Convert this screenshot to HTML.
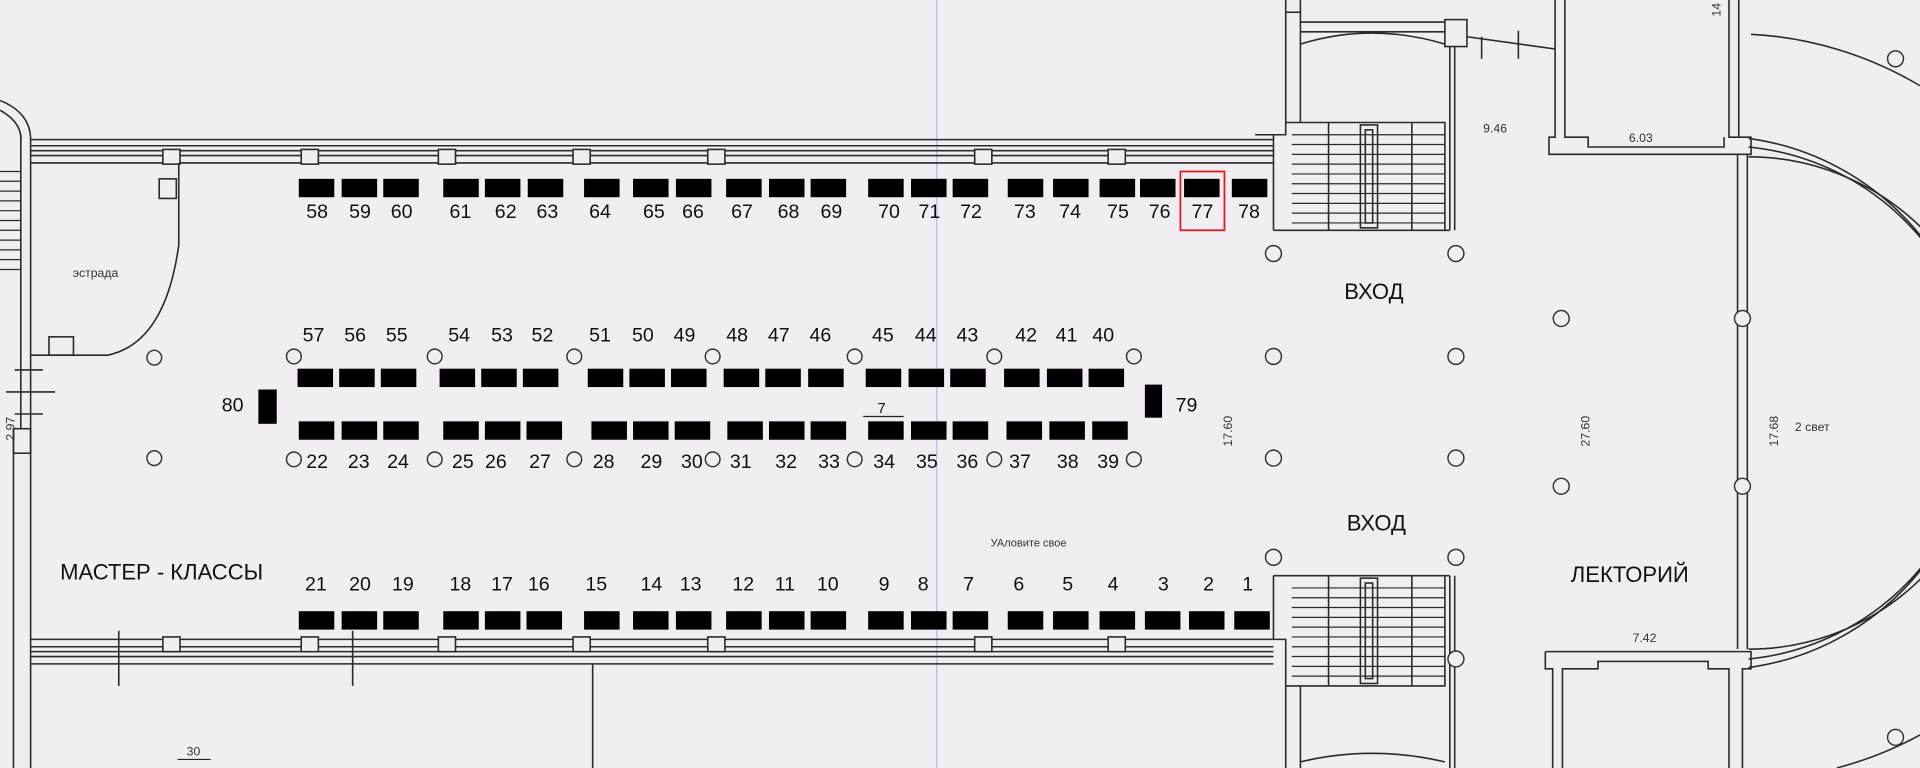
<!DOCTYPE html>
<html><head><meta charset="utf-8"><style>
html,body{margin:0;padding:0;background:#f2edf3;}
svg{display:block}
.n{font-family:"Liberation Sans Narrow","Liberation Sans",sans-serif;font-size:16px;fill:#111;text-anchor:middle}
.s{font-family:"Liberation Sans",sans-serif;font-size:10px;fill:#333;text-anchor:middle}
.L{font-family:"Liberation Sans Narrow","Liberation Sans",sans-serif;font-size:18px;fill:#111;text-anchor:middle}
</style></head><body>
<svg width="1920" height="768" viewBox="0 0 1568 627" preserveAspectRatio="none" xmlns="http://www.w3.org/2000/svg">
<rect width="1568" height="627" fill="#f2edf3"/>
<line x1="765" y1="0" x2="765" y2="627" stroke="#b8b8ee" stroke-width="1"/>
<g stroke="#2a2a2a" stroke-width="1.3" fill="none">
<!-- top wall -->
<line x1="25" y1="114" x2="1040" y2="114"/><line x1="25" y1="119" x2="1040" y2="119"/>
<line x1="25" y1="123" x2="1040" y2="123"/><line x1="25" y1="127" x2="1040" y2="127"/>
<line x1="25" y1="133" x2="1040" y2="133"/>
<g fill="#f2edf3"><rect x="133" y="122" width="14" height="12"/><rect x="246" y="122" width="14" height="12"/><rect x="358" y="122" width="14" height="12"/><rect x="468" y="122" width="14" height="12"/><rect x="578" y="122" width="14" height="12"/><rect x="796" y="122" width="14" height="12"/><rect x="905" y="122" width="14" height="12"/></g>
<!-- bottom wall -->
<line x1="25" y1="522" x2="1040" y2="522"/><line x1="25" y1="528" x2="1040" y2="528"/>
<line x1="25" y1="532" x2="1040" y2="532"/><line x1="25" y1="536" x2="1040" y2="536"/>
<line x1="25" y1="542" x2="1040" y2="542"/>
<g fill="#f2edf3"><rect x="133" y="520" width="14" height="12"/><rect x="246" y="520" width="14" height="12"/><rect x="358" y="520" width="14" height="12"/><rect x="468" y="520" width="14" height="12"/><rect x="578" y="520" width="14" height="12"/><rect x="796" y="520" width="14" height="12"/><rect x="905" y="520" width="14" height="12"/></g>
<line x1="97" y1="515" x2="97" y2="560"/><line x1="288" y1="515" x2="288" y2="560"/>
<line x1="484" y1="542" x2="484" y2="627"/>
<!-- left -->
<line x1="25" y1="114" x2="25" y2="627"/><line x1="17" y1="110" x2="17" y2="350"/>
<line x1="11" y1="350" x2="11" y2="627"/>
<path d="M0 82 Q25 92 25 114"/><path d="M0 90 Q18 100 17 115"/>
<g stroke-width="1"><line x1="0" y1="140" x2="17" y2="140"/><line x1="0" y1="148" x2="17" y2="148"/><line x1="0" y1="156" x2="17" y2="156"/><line x1="0" y1="164" x2="17" y2="164"/><line x1="0" y1="172" x2="17" y2="172"/><line x1="0" y1="180" x2="17" y2="180"/><line x1="0" y1="188" x2="17" y2="188"/><line x1="0" y1="196" x2="17" y2="196"/><line x1="0" y1="204" x2="17" y2="204"/><line x1="0" y1="212" x2="17" y2="212"/><line x1="0" y1="220" x2="17" y2="220"/></g>
<path d="M25 290 L88 290 Q135 280 146 200 L146 133"/>
<rect x="130" y="146" width="14" height="16"/><rect x="40" y="275" width="20" height="15"/>
<line x1="12" y1="302" x2="35" y2="302"/><line x1="5" y1="320" x2="45" y2="320"/><line x1="12" y1="338" x2="35" y2="338"/>
<rect x="11" y="350" width="14" height="20"/>
<!-- top stair -->
<path d="M1040 188 L1040 110 L1050 110 L1050 0 M1040 110 L1025 110"/>
<line x1="1062" y1="0" x2="1062" y2="100"/><line x1="1050" y1="10" x2="1062" y2="10"/>
<line x1="1062" y1="18" x2="1180" y2="18"/><line x1="1062" y1="26" x2="1180" y2="26"/>
<path d="M1062 36 Q1120 18 1180 36"/>
<rect x="1180" y="16" width="18" height="22"/>
<line x1="1184" y1="38" x2="1184" y2="188"/><line x1="1188" y1="38" x2="1188" y2="188"/>
<path d="M1040 188 L1184 188 M1050 100 L1180 100 L1180 188"/>
<rect x="1111" y="102" width="14" height="84"/><rect x="1115" y="106" width="6" height="76"/>
<g stroke-width="1"><line x1="1055" y1="110" x2="1180" y2="110"/><line x1="1055" y1="118" x2="1180" y2="118"/><line x1="1055" y1="126" x2="1180" y2="126"/><line x1="1055" y1="134" x2="1180" y2="134"/><line x1="1055" y1="142" x2="1180" y2="142"/><line x1="1055" y1="150" x2="1180" y2="150"/><line x1="1055" y1="158" x2="1180" y2="158"/><line x1="1055" y1="166" x2="1180" y2="166"/><line x1="1055" y1="174" x2="1180" y2="174"/><line x1="1055" y1="182" x2="1180" y2="182"/></g>
<line x1="1085" y1="100" x2="1085" y2="188"/><line x1="1153" y1="100" x2="1153" y2="188"/>
<path d="M1198 30 L1270 40 M1210 30 L1210 48 M1240 25 L1240 48"/>
<!-- bottom stair -->
<path d="M1040 470 L1040 522 L1050 522 L1050 627 M1062 560 L1062 627"/>
<path d="M1040 470 L1184 470 M1050 560 L1180 560 L1180 470"/>
<line x1="1184" y1="470" x2="1184" y2="627"/><line x1="1188" y1="470" x2="1188" y2="627"/>
<path d="M1062 622 Q1120 608 1180 622"/>
<rect x="1111" y="472" width="14" height="86"/><rect x="1115" y="476" width="6" height="78"/>
<g stroke-width="1"><line x1="1055" y1="480" x2="1180" y2="480"/><line x1="1055" y1="488" x2="1180" y2="488"/><line x1="1055" y1="496" x2="1180" y2="496"/><line x1="1055" y1="504" x2="1180" y2="504"/><line x1="1055" y1="512" x2="1180" y2="512"/><line x1="1055" y1="520" x2="1180" y2="520"/><line x1="1055" y1="528" x2="1180" y2="528"/><line x1="1055" y1="536" x2="1180" y2="536"/><line x1="1055" y1="544" x2="1180" y2="544"/><line x1="1055" y1="552" x2="1180" y2="552"/></g>
<line x1="1085" y1="470" x2="1085" y2="560"/><line x1="1153" y1="470" x2="1153" y2="560"/>
<!-- top room -->
<path d="M1270 0 L1270 112 L1265 112 L1265 126 L1430 126 L1430 112 L1412 112 L1412 0 M1278 0 L1278 112 L1297 112 L1297 120 L1408 120 L1408 112"/>
<line x1="1420" y1="0" x2="1420" y2="112"/>
<!-- right vertical wall -->
<line x1="1419" y1="126" x2="1419" y2="530"/><line x1="1427" y1="126" x2="1427" y2="530"/>
<!-- bottom room -->
<path d="M1262 532 L1262 546 L1268 546 L1268 627 M1262 532 L1430 532 L1430 546 L1423 546 L1423 627 M1276 627 L1276 546 L1305 546 L1305 540 L1395 540 L1395 546 L1412 546 L1412 627"/>
<!-- arcs -->
<path d="M1428 128 A200 200 0 0 1 1428 530"/>
<path d="M1428 120 A210 210 0 0 1 1428 538"/>
<path d="M1428 113 A218 218 0 0 1 1428 545"/>
<path d="M1430 28 A300 300 0 0 1 1568 70"/>
<path d="M1500 627 A300 300 0 0 0 1568 600"/>
</g>
<!-- columns -->
<g stroke="#333" stroke-width="1.2" fill="none">
<circle cx="126" cy="292" r="6"/><circle cx="126" cy="374" r="6"/>
<circle cx="240" cy="291" r="6"/><circle cx="355" cy="291" r="6"/><circle cx="469" cy="291" r="6"/><circle cx="582" cy="291" r="6"/><circle cx="698" cy="291" r="6"/><circle cx="812" cy="291" r="6"/><circle cx="926" cy="291" r="6"/>
<circle cx="240" cy="375" r="6"/><circle cx="355" cy="375" r="6"/><circle cx="469" cy="375" r="6"/><circle cx="582" cy="375" r="6"/><circle cx="698" cy="375" r="6"/><circle cx="812" cy="375" r="6"/><circle cx="926" cy="375" r="6"/>
<circle cx="1040" cy="207" r="6.5"/><circle cx="1189" cy="207" r="6.5"/>
<circle cx="1040" cy="291" r="6.5"/><circle cx="1189" cy="291" r="6.5"/>
<circle cx="1040" cy="374" r="6.5"/><circle cx="1189" cy="374" r="6.5"/>
<circle cx="1040" cy="455" r="6.5"/><circle cx="1189" cy="455" r="6.5"/>
<circle cx="1275" cy="260" r="6.5"/><circle cx="1275" cy="397" r="6.5"/>
<circle cx="1423" cy="260" r="6.5" fill="#f2edf3"/><circle cx="1423" cy="397" r="6.5" fill="#f2edf3"/>
<circle cx="1189" cy="538" r="6.5" fill="#f2edf3"/>
<circle cx="1548" cy="48" r="6.5"/><circle cx="1548" cy="602" r="6.5"/>
</g>
<!-- tables -->
<g fill="#000">
<rect x="244" y="146" width="29" height="15"/><rect x="279" y="146" width="29" height="15"/><rect x="313" y="146" width="29" height="15"/><rect x="362" y="146" width="29" height="15"/><rect x="396" y="146" width="29" height="15"/><rect x="431" y="146" width="29" height="15"/><rect x="477" y="146" width="29" height="15"/><rect x="517" y="146" width="29" height="15"/><rect x="552" y="146" width="29" height="15"/><rect x="593" y="146" width="29" height="15"/><rect x="628" y="146" width="29" height="15"/><rect x="662" y="146" width="29" height="15"/><rect x="709" y="146" width="29" height="15"/><rect x="744" y="146" width="29" height="15"/><rect x="778" y="146" width="29" height="15"/><rect x="823" y="146" width="29" height="15"/><rect x="860" y="146" width="29" height="15"/><rect x="898" y="146" width="29" height="15"/><rect x="931" y="146" width="29" height="15"/><rect x="967" y="146" width="29" height="15"/><rect x="1006" y="146" width="29" height="15"/>
<rect x="243" y="301" width="29" height="15"/><rect x="277" y="301" width="29" height="15"/><rect x="311" y="301" width="29" height="15"/><rect x="359" y="301" width="29" height="15"/><rect x="393" y="301" width="29" height="15"/><rect x="427" y="301" width="29" height="15"/><rect x="480" y="301" width="29" height="15"/><rect x="514" y="301" width="29" height="15"/><rect x="548" y="301" width="29" height="15"/><rect x="591" y="301" width="29" height="15"/><rect x="625" y="301" width="29" height="15"/><rect x="660" y="301" width="29" height="15"/><rect x="707" y="301" width="29" height="15"/><rect x="742" y="301" width="29" height="15"/><rect x="776" y="301" width="29" height="15"/><rect x="820" y="301" width="29" height="15"/><rect x="855" y="301" width="29" height="15"/><rect x="889" y="301" width="29" height="15"/>
<rect x="244" y="344" width="29" height="15"/><rect x="279" y="344" width="29" height="15"/><rect x="313" y="344" width="29" height="15"/><rect x="362" y="344" width="29" height="15"/><rect x="396" y="344" width="29" height="15"/><rect x="430" y="344" width="29" height="15"/><rect x="483" y="344" width="29" height="15"/><rect x="517" y="344" width="29" height="15"/><rect x="551" y="344" width="29" height="15"/><rect x="594" y="344" width="29" height="15"/><rect x="628" y="344" width="29" height="15"/><rect x="662" y="344" width="29" height="15"/><rect x="709" y="344" width="29" height="15"/><rect x="744" y="344" width="29" height="15"/><rect x="778" y="344" width="29" height="15"/><rect x="822" y="344" width="29" height="15"/><rect x="857" y="344" width="29" height="15"/><rect x="892" y="344" width="29" height="15"/>
<rect x="244" y="499" width="29" height="15"/><rect x="279" y="499" width="29" height="15"/><rect x="313" y="499" width="29" height="15"/><rect x="362" y="499" width="29" height="15"/><rect x="396" y="499" width="29" height="15"/><rect x="430" y="499" width="29" height="15"/><rect x="477" y="499" width="29" height="15"/><rect x="517" y="499" width="29" height="15"/><rect x="552" y="499" width="29" height="15"/><rect x="593" y="499" width="29" height="15"/><rect x="628" y="499" width="29" height="15"/><rect x="662" y="499" width="29" height="15"/><rect x="709" y="499" width="29" height="15"/><rect x="744" y="499" width="29" height="15"/><rect x="778" y="499" width="29" height="15"/><rect x="823" y="499" width="29" height="15"/><rect x="860" y="499" width="29" height="15"/><rect x="898" y="499" width="29" height="15"/><rect x="935" y="499" width="29" height="15"/><rect x="971" y="499" width="29" height="15"/><rect x="1008" y="499" width="29" height="15"/>
<rect x="211" y="318" width="15" height="28"/><rect x="935" y="314" width="14" height="27"/>
</g>
<rect x="964" y="140" width="36" height="48" fill="none" stroke="#e02020" stroke-width="1.5"/>
<!-- labels -->
<g class="n">
<text x="259" y="178">58</text><text x="294" y="178">59</text><text x="328" y="178">60</text><text x="376" y="178">61</text><text x="413" y="178">62</text><text x="447" y="178">63</text><text x="490" y="178">64</text><text x="534" y="178">65</text><text x="566" y="178">66</text><text x="606" y="178">67</text><text x="644" y="178">68</text><text x="679" y="178">69</text><text x="726" y="178">70</text><text x="759" y="178">71</text><text x="793" y="178">72</text><text x="837" y="178">73</text><text x="874" y="178">74</text><text x="913" y="178">75</text><text x="947" y="178">76</text><text x="982" y="178">77</text><text x="1020" y="178">78</text>
<text x="256" y="279">57</text><text x="290" y="279">56</text><text x="324" y="279">55</text><text x="375" y="279">54</text><text x="410" y="279">53</text><text x="443" y="279">52</text><text x="490" y="279">51</text><text x="525" y="279">50</text><text x="559" y="279">49</text><text x="602" y="279">48</text><text x="636" y="279">47</text><text x="670" y="279">46</text><text x="721" y="279">45</text><text x="756" y="279">44</text><text x="790" y="279">43</text><text x="838" y="279">42</text><text x="871" y="279">41</text><text x="901" y="279">40</text>
<text x="259" y="382">22</text><text x="293" y="382">23</text><text x="325" y="382">24</text><text x="378" y="382">25</text><text x="405" y="382">26</text><text x="441" y="382">27</text><text x="493" y="382">28</text><text x="532" y="382">29</text><text x="565" y="382">30</text><text x="605" y="382">31</text><text x="642" y="382">32</text><text x="677" y="382">33</text><text x="722" y="382">34</text><text x="757" y="382">35</text><text x="790" y="382">36</text><text x="833" y="382">37</text><text x="872" y="382">38</text><text x="905" y="382">39</text>
<text x="258" y="482">21</text><text x="294" y="482">20</text><text x="329" y="482">19</text><text x="376" y="482">18</text><text x="410" y="482">17</text><text x="440" y="482">16</text><text x="487" y="482">15</text><text x="532" y="482">14</text><text x="564" y="482">13</text><text x="607" y="482">12</text><text x="641" y="482">11</text><text x="676" y="482">10</text><text x="722" y="482">9</text><text x="754" y="482">8</text><text x="791" y="482">7</text><text x="832" y="482">6</text><text x="872" y="482">5</text><text x="909" y="482">4</text><text x="950" y="482">3</text><text x="987" y="482">2</text><text x="1019" y="482">1</text>
<text x="190" y="336">80</text><text x="969" y="336">79</text>
<text x="720" y="337" style="font-size:12px">7</text>
</g>
<line x1="705" y1="340" x2="738" y2="340" stroke="#222" stroke-width="1"/>
<text class="L" x="1122" y="244">ВХОД</text>
<text class="L" x="1124" y="433">ВХОД</text>
<text class="L" x="1331" y="475">ЛЕКТОРИЙ</text>
<text class="L" x="132" y="473">МАСТЕР - КЛАССЫ</text>
<text class="s" x="78" y="226">эстрада</text>
<text class="s" x="1221" y="108">9.46</text>
<text class="s" x="1340" y="116">6.03</text>
<text class="s" x="1343" y="524">7.42</text>
<text class="s" x="1480" y="352">2 свет</text>
<text class="s" x="158" y="617">30</text>
<line x1="145" y1="620" x2="172" y2="620" stroke="#222"/>
<text class="s" x="840" y="446" style="font-size:9px">УАловите свое</text>
<text class="s" transform="translate(1006,352) rotate(-90)">17.60</text>
<text class="s" transform="translate(1298,352) rotate(-90)">27.60</text>
<text class="s" transform="translate(1452,352) rotate(-90)">17.68</text>
<text class="s" transform="translate(12,350) rotate(-90)">2.97</text>
<text class="s" transform="translate(1405,8) rotate(-90)">14</text>
</svg>
</body></html>
